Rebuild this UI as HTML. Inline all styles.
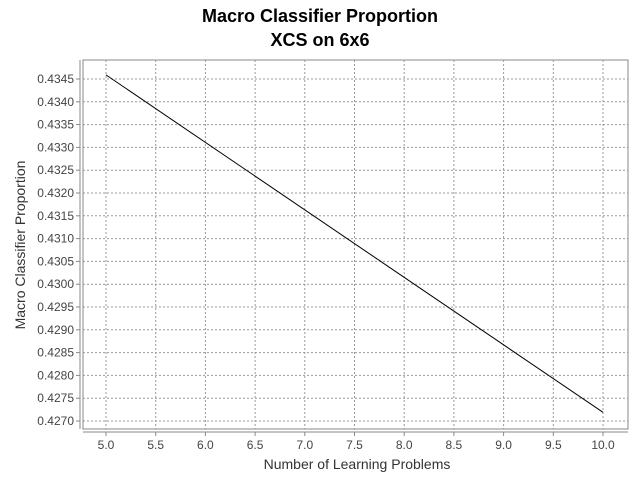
<!DOCTYPE html>
<html><head><meta charset="utf-8"><style>
body{margin:0;background:#fff;font-family:"Liberation Sans",sans-serif}
</style></head><body>
<svg width="640" height="480" xmlns="http://www.w3.org/2000/svg">
<rect width="640" height="480" fill="#fff"/>
<text x="320" y="22" text-anchor="middle" font-size="18" font-weight="bold">Macro Classifier Proportion</text>
<text x="320" y="46" text-anchor="middle" font-size="18" font-weight="bold">XCS on 6x6</text>
<rect x="83" y="60" width="545" height="369" fill="#fff" stroke="#888"/>
<g id="grid"></g>
<g id="axes"></g>
<path id="line" fill="none" stroke="#000" stroke-width="1"/>
<text x="357" y="469" text-anchor="middle" font-size="14" fill="#333">Number of Learning Problems</text>
<text transform="translate(25,245) rotate(-90)" text-anchor="middle" font-size="14" fill="#333">Macro Classifier Proportion</text>
</svg>
<script>
const xValues=[5,10];
const yValues=[0.43459,0.42719];
const xTicks=[5,5.5,6,6.5,7,7.5,8,8.5,9,9.5,10];
const yTicks=[0.4270,0.4275,0.4280,0.4285,0.4290,0.4295,0.4300,0.4305,0.4310,0.4315,0.4320,0.4325,0.4330,0.4335,0.4340,0.4345];
const NS="http://www.w3.org/2000/svg";
const sx=v=>106+(v-5)*(603-106)/5;
const sy=v=>421-(v-0.4270)*(421-79)/0.0075;
const grid=document.getElementById('grid'),axes=document.getElementById('axes');
function mk(tag,at,par){const e=document.createElementNS(NS,tag);for(const k in at)e.setAttribute(k,at[k]);par.appendChild(e);return e;}
xTicks.forEach(t=>{
 const l=mk('line',{x1:sx(t),x2:sx(t),y1:60,y2:429,stroke:'#999','stroke-dasharray':'2,2'},grid);
 
 
 mk('line',{x1:sx(t),x2:sx(t),y1:432,y2:436,stroke:'#888'},axes);
 const tx=mk('text',{x:sx(t),y:449,'text-anchor':'middle','font-size':'12',fill:'#444'},axes);
 tx.textContent=t.toFixed(1);
 
 
});
yTicks.forEach(t=>{
 const l=mk('line',{x1:83,x2:628,y1:sy(t),y2:sy(t),stroke:'#999','stroke-dasharray':'2,2'},grid);
 
 
 mk('line',{x1:76,x2:80,y1:sy(t),y2:sy(t),stroke:'#888'},axes);
 const tx=mk('text',{x:74,y:sy(t)+4,'text-anchor':'end','font-size':'12',fill:'#444'},axes);
 tx.textContent=t.toFixed(4);
 
 
});
mk('line',{x1:80,x2:80,y1:60,y2:429,stroke:'#888'},axes);
mk('line',{x1:83,x2:628,y1:432,y2:432,stroke:'#888'},axes);
document.getElementById('line').setAttribute('d',xValues.map((x,i)=>(i?'L':'M')+sx(x)+','+sy(yValues[i])).join(' '));
</script>
</body></html>
